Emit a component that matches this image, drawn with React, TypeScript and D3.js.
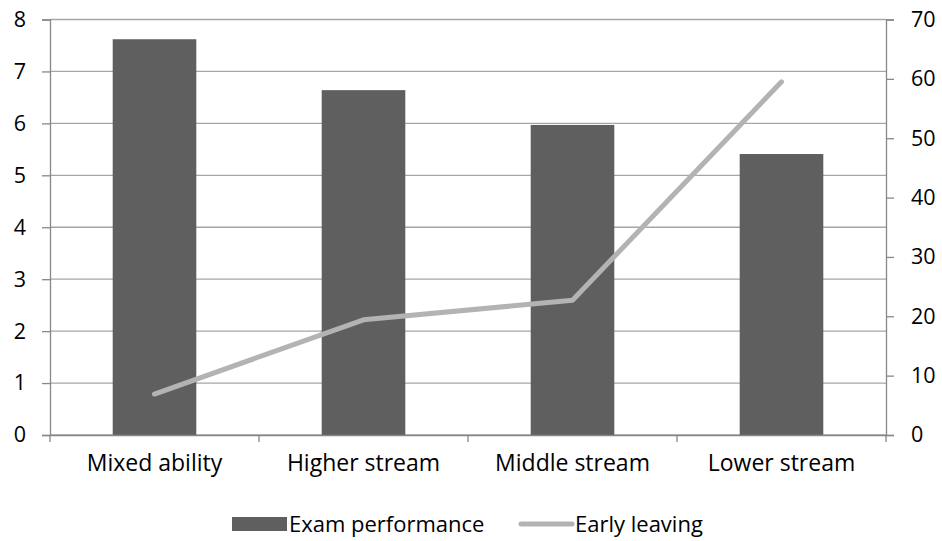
import React, { useRef, useEffect } from "react";
import * as d3 from "d3";

// chart data
const categories = ["Mixed ability", "Higher stream", "Middle stream", "Lower stream"];
const examPerformance = [7.62, 6.64, 5.97, 5.41];
const earlyLeaving = [6.9, 19.4, 22.7, 59.5];
const leftTicks = [0, 1, 2, 3, 4, 5, 6, 7, 8];
const rightTicks = [0, 10, 20, 30, 40, 50, 60, 70];
const seriesNames = ["Exam performance", "Early leaving"];

const WIDTH = 942;
const HEIGHT = 541;
const FONT = "'Open Sans', 'Noto Sans', sans-serif";
const FONT_SIZE = "21.5px";

function drawChart(el: SVGSVGElement) {
  const margin = { top: 19.5, right: 56, bottom: 106, left: 50 };
  const innerW = WIDTH - margin.left - margin.right;
  const innerH = HEIGHT - margin.top - margin.bottom;

  const svg = d3.select(el);
  svg.selectAll("*").remove();

  const g = svg
    .append("g")
    .attr("transform", `translate(${margin.left}, ${margin.top})`);

  const x = d3
    .scaleBand<string>()
    .domain(categories)
    .range([0, innerW])
    .paddingInner(0.6)
    .paddingOuter(0.3);

  const yLeft = d3.scaleLinear().domain([0, 8]).range([innerH, 0]);
  const yRight = d3.scaleLinear().domain([0, 70]).range([innerH, 0]);

  // gridlines
  g.append("g")
    .selectAll("line")
    .data(leftTicks)
    .enter()
    .append("line")
    .attr("x1", 0)
    .attr("x2", innerW)
    .attr("y1", (d) => yLeft(d))
    .attr("y2", (d) => yLeft(d))
    .attr("stroke", "#a6a6a6")
    .attr("stroke-width", 1.3);

  // bars
  g.append("g")
    .selectAll("rect")
    .data(examPerformance)
    .enter()
    .append("rect")
    .attr("x", (_, i) => x(categories[i]) as number)
    .attr("y", (d) => yLeft(d))
    .attr("width", x.bandwidth())
    .attr("height", (d) => innerH - yLeft(d))
    .attr("fill", "#5f5f5f");

  // line
  const line = d3
    .line<number>()
    .x((_, i) => (x(categories[i]) as number) + x.bandwidth() / 2)
    .y((d) => yRight(d));

  g.append("path")
    .datum(earlyLeaving)
    .attr("d", line)
    .attr("fill", "none")
    .attr("stroke", "#b3b3b3")
    .attr("stroke-width", 5)
    .attr("stroke-linecap", "round")
    .attr("stroke-linejoin", "round");

  // left axis
  const leftAxis = g
    .append("g")
    .call(d3.axisLeft(yLeft).tickValues(leftTicks).tickSize(8).tickPadding(16));
  // right axis
  const rightAxis = g
    .append("g")
    .attr("transform", `translate(${innerW}, 0)`)
    .call(d3.axisRight(yRight).tickValues(rightTicks).tickSize(8).tickPadding(17));
  // bottom axis with ticks between categories
  const step = x.step();
  const bottomAxis = g
    .append("g")
    .attr("transform", `translate(0, ${innerH})`)
    .call(d3.axisBottom(x).tickSize(0).tickPadding(20));
  bottomAxis
    .selectAll("line.sep")
    .data(d3.range(categories.length + 1))
    .enter()
    .append("line")
    .attr("class", "sep")
    .attr("x1", (d) => d * step)
    .attr("x2", (d) => d * step)
    .attr("y1", 0)
    .attr("y2", 7)
    .attr("stroke", "#878787")
    .attr("stroke-width", 1.3);

  [leftAxis, rightAxis, bottomAxis].forEach((ax) => {
    ax.select(".domain").attr("stroke", "#878787").attr("stroke-width", 1.3);
    ax.selectAll(".tick line").attr("stroke", "#878787").attr("stroke-width", 1.3);
    ax.selectAll("text")
      .attr("fill", "#000")
      .style("font-family", FONT)
      .style("font-size", FONT_SIZE);
  });
  bottomAxis.selectAll(".tick text").style("font-size", "23px");

  // legend
  const legend = svg.append("g").attr("transform", "translate(0, 524)");
  legend
    .append("rect")
    .attr("x", 232)
    .attr("y", -7)
    .attr("width", 55)
    .attr("height", 14)
    .attr("fill", "#5f5f5f");
  legend
    .append("text")
    .attr("x", 289)
    .attr("y", 0)
    .attr("dy", "0.35em")
    .style("font-family", FONT)
    .style("font-size", "22px")
    .text(seriesNames[0]);
  legend
    .append("line")
    .attr("x1", 521)
    .attr("x2", 572)
    .attr("y1", 0)
    .attr("y2", 0)
    .attr("stroke", "#b3b3b3")
    .attr("stroke-width", 5)
    .attr("stroke-linecap", "round");
  legend
    .append("text")
    .attr("x", 575)
    .attr("y", 0)
    .attr("dy", "0.35em")
    .style("font-family", FONT)
    .style("font-size", "22px")
    .text(seriesNames[1]);
}

const App: React.FunctionComponent = function () {
  const svgRef = useRef<SVGSVGElement>(null);

  useEffect(() => {
    if (svgRef.current == null) {
      return;
    }
    drawChart(svgRef.current);
  }, []);

  return (
    <svg
      ref={svgRef}
      width={WIDTH}
      height={HEIGHT}
      style={{ position: "absolute", left: 0, top: 0, background: "#fff" }}
    ></svg>
  );
};

export default App;
